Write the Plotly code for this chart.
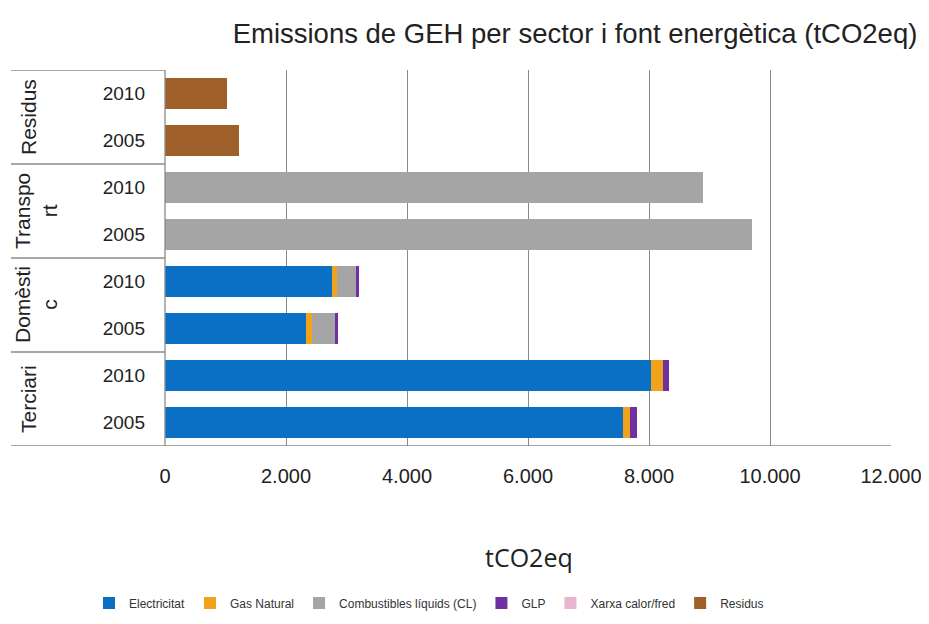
import plotly.graph_objects as go

# ---- data (bottom to top) ----
sectors = ["Terciari", "Domèsti<br>c", "Transpo<br>rt", "Residus"]
years = ["2005", "2010", "2005", "2010", "2005", "2010", "2005", "2010"]
electricitat = [7565, 8028, 2325, 2755, 0, 0, 0, 0]
gas_natural = [120, 200, 110, 85, 0, 0, 0, 0]
combustibles = [0, 0, 380, 320, 9710, 8890, 0, 0]
glp = [110, 105, 45, 40, 0, 0, 0, 0]
xarxa = [0, 0, 0, 0, 0, 0, 0, 0]
residus = [0, 0, 0, 0, 0, 0, 1228, 1030]
x_ticks = [0, 2000, 4000, 6000, 8000, 10000, 12000]

series = [
    ("Electricitat", electricitat, "#0A70C4"),
    ("Gas Natural", gas_natural, "#F2A31C"),
    ("Combustibles líquids (CL)", combustibles, "#A5A5A5"),
    ("GLP", glp, "#7030A0"),
    ("Xarxa calor/fred", xarxa, "#E8B4CF"),
    ("Residus", residus, "#9E5F28"),
]

pos = list(range(len(years)))

fig = go.Figure()
for name, vals, col in series:
    fig.add_trace(go.Bar(
        x=vals, y=pos, name=name, orientation="h",
        marker=dict(color=col, line=dict(width=0)),
        width=0.64,
    ))

OFF = 8  # page body offset
W, H = 929 - OFF, 624 - 2 * OFF
L = 165 - OFF
T = 70 - OFF
pw, ph = 726, 376
R = W - L - pw
B = H - T - ph

def px2paper(p):
    return (p - OFF - L) / pw

def py2paper(p):
    return (H - B - (p - OFF)) / ph

shapes = []
for yv in [-0.5, 1.5, 3.5, 5.5, 7.5]:
    shapes.append(dict(type="line", xref="paper", yref="y",
                       x0=px2paper(11), x1=0 if yv != -0.5 else 1,
                       y0=yv, y1=yv, line=dict(color="#8a8a8a", width=1.3)))
shapes.append(dict(type="line", xref="paper", yref="y", x0=0, x1=0, y0=-0.5, y1=7.5,
                   line=dict(color="#8a8a8a", width=1.3)))

annotations = []
sector_px = [28, 36, 36, 28]
for i, s in enumerate(sectors):
    annotations.append(dict(
        text=s, xref="paper", yref="y", x=px2paper(sector_px[i]), y=2 * i + 0.5,
        textangle=-90, showarrow=False, xanchor="center", yanchor="middle",
        font=dict(family="Liberation Sans, Arial", size=21, color="#222222"),
    ))
annotations.append(dict(
    text="tCO2eq", xref="paper", yref="paper", x=px2paper(529), y=py2paper(557),
    showarrow=False, xanchor="center", yanchor="middle",
    font=dict(family="Open Sans, sans-serif", size=25, color="#222222"),
))

fig.update_layout(
    width=W, height=H,
    margin=dict(l=L, r=R, t=T, b=B, autoexpand=False),
    paper_bgcolor="white", plot_bgcolor="white",
    barmode="stack",
    separators=",.",
    title=dict(text="Emissions de GEH per sector i font energètica (tCO2eq)",
               x=(575 - OFF) / W, xanchor="center", y=1 - (33 - OFF) / H, yanchor="middle",
               font=dict(family="Liberation Sans, Arial", size=27.5, color="#222222")),
    xaxis=dict(range=[0, 12000], tickvals=x_ticks, tickformat=",d",
               showgrid=True, gridcolor="#8a8a8a", gridwidth=1.3,
               zeroline=False, showline=False, ticks="", tickangle=0,
               automargin=False,
               ticklabelstandoff=16,
               tickfont=dict(family="Liberation Sans, Arial", size=20, color="#222222")),
    yaxis=dict(range=[-0.5, 7.5], tickvals=pos, ticktext=years,
               showgrid=False, zeroline=False, showline=False, ticks="",
               automargin=False,
               ticklabelstandoff=19,
               tickfont=dict(family="Liberation Sans, Arial", size=19, color="#222222")),
    legend=dict(orientation="h", x=px2paper(429), xanchor="center",
                y=py2paper(603), yanchor="middle",
                font=dict(family="Liberation Sans, Arial", size=12, color="#333333"),
                itemwidth=30, traceorder="normal"),
    shapes=shapes,
    annotations=annotations,
    showlegend=True,
)

fig.write_html("out.html")
